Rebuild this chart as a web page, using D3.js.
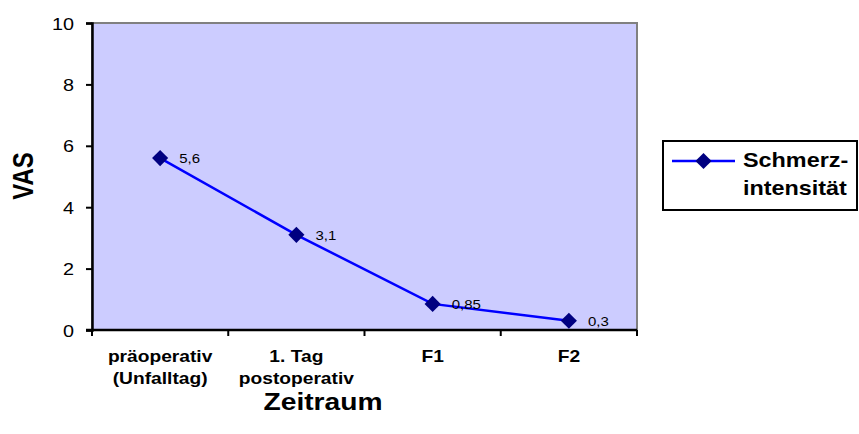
<!DOCTYPE html>
<html>
<head>
<meta charset="utf-8">
<script src="https://cdn.jsdelivr.net/npm/d3@7"></script>
<style>
  html, body { margin: 0; padding: 0; background: #fff; }
  svg { display: block; font-family: "Liberation Sans", Arial, sans-serif; }
</style>
</head>
<body>
<svg id="chart" width="859" height="434"></svg>
<script>
// Pain intensity (VAS) over time
const categories = [["präoperativ", "(Unfalltag)"], ["1. Tag", "postoperativ"], ["F1"], ["F2"]];
const values = [5.6, 3.1, 0.85, 0.3];
const valueLabels = ["5,6", "3,1", "0,85", "0,3"];
const yTicks = [0, 2, 4, 6, 8, 10];
const seriesName = ["Schmerz-", "intensität"];

// text is drawn slightly widened, like the rest of the layout
const SX = 1.2;

const svg = d3.select("#chart");
const plot = { left: 92, top: 23, right: 637, bottom: 330 };

const x = d3.scaleBand()
  .domain(d3.range(categories.length))
  .range([plot.left, plot.right])
  .padding(0);
const y = d3.scaleLinear().domain([0, 10]).range([plot.bottom, plot.top]);

function label(parent, tx, ty, str, opts = {}) {
  return parent.append("text")
    .attr("transform", `translate(${tx},${ty}) scale(${SX},1)` + (opts.rotate ? ` rotate(${opts.rotate})` : ""))
    .attr("text-anchor", opts.anchor || "start")
    .attr("font-size", opts.size || 16)
    .attr("font-weight", opts.bold ? "bold" : "normal")
    .attr("fill", "#000")
    .text(str);
}

// plot background
svg.append("rect")
  .attr("x", plot.left).attr("y", plot.top)
  .attr("width", plot.right - plot.left).attr("height", plot.bottom - plot.top)
  .attr("fill", "#CCCCFF")
  .attr("stroke", "#808080").attr("stroke-width", 2);

// y axis
const yAxis = svg.append("g")
  .attr("transform", `translate(${plot.left},0)`)
  .call(d3.axisLeft(y).tickValues(yTicks).tickSize(6).tickFormat(d3.format("d")));
yAxis.select(".domain").attr("stroke", "#000").attr("stroke-width", 2.5);
yAxis.selectAll(".tick line").attr("stroke", "#000").attr("stroke-width", 2);
yAxis.selectAll(".tick text").remove();
yAxis.selectAll(".tick").each(function(d) {
  label(d3.select(this), -18, 6, d3.format("d")(d), { anchor: "end", size: 16.5 });
});

// x axis with ticks at category boundaries
const xAxis = svg.append("g").attr("transform", `translate(0,${plot.bottom})`);
xAxis.append("line")
  .attr("x1", plot.left - 6).attr("x2", plot.right)
  .attr("stroke", "#000").attr("stroke-width", 2.5);
const bounds = d3.range(categories.length + 1).map(i => i < categories.length ? x(i) : x(i - 1) + x.bandwidth());
xAxis.selectAll("line.tk").data(bounds).join("line")
  .attr("class", "tk")
  .attr("x1", d => d).attr("x2", d => d)
  .attr("y1", 0).attr("y2", 6)
  .attr("stroke", "#000").attr("stroke-width", 2);

const catG = svg.append("g");
categories.forEach((lines, i) => {
  lines.forEach((s, j) => {
    label(catG, x(i) + x.bandwidth() / 2, 362 + j * 21.5, s, { anchor: "middle", size: 16, bold: true });
  });
});

// axis titles
label(svg, 323, 410, "Zeitraum", { anchor: "middle", size: 23.5, bold: true });
label(svg, 32.5, 176, "VAS", { anchor: "middle", size: 24, bold: true, rotate: -90 });

// series line
const cx = i => x(i) + x.bandwidth() / 2;
svg.append("path")
  .datum(values)
  .attr("d", d3.line().x((d, i) => cx(i)).y(d => y(d)))
  .attr("fill", "none").attr("stroke", "#0000FF").attr("stroke-width", 2.5);

const diamond = d3.symbol().type(d3.symbolSquare).size(130);
svg.append("g").selectAll("path").data(values).join("path")
  .attr("d", diamond)
  .attr("transform", (d, i) => `translate(${cx(i)},${y(d)}) rotate(45)`)
  .attr("fill", "#000080");

const valG = svg.append("g");
values.forEach((v, i) => {
  label(valG, cx(i) + 19, y(v) + 5, valueLabels[i], { size: 12.5 });
});

// legend
const lg = svg.append("g");
lg.append("rect")
  .attr("x", 663).attr("y", 141).attr("width", 194).attr("height", 69)
  .attr("fill", "#fff").attr("stroke", "#000").attr("stroke-width", 2);
lg.append("line")
  .attr("x1", 672).attr("x2", 735).attr("y1", 161).attr("y2", 161)
  .attr("stroke", "#0000FF").attr("stroke-width", 2.5);
lg.append("path")
  .attr("d", diamond)
  .attr("transform", "translate(703.5,161) rotate(45)")
  .attr("fill", "#000080");
seriesName.forEach((s, i) => {
  label(lg, 743, 167 + i * 28, s, { size: 19.5, bold: true });
});
</script>
</body>
</html>
